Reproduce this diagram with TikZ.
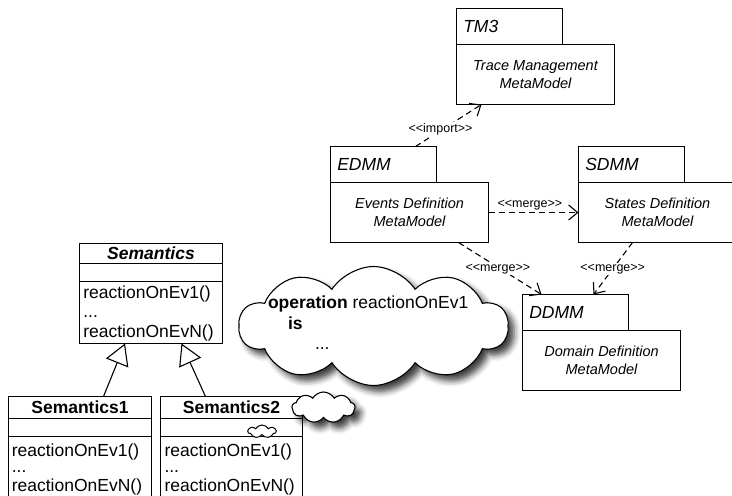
\documentclass[tikz,border=0pt]{standalone}
\usepackage{fontspec}
\setmainfont{Liberation Sans}
\newfontfamily\stfam{Liberation Sans}
\usetikzlibrary{arrows.meta,shapes.symbols,shadows.blur,calc}
\newcommand\clsfont{\fontsize{17.5}{20}\selectfont}
\newcommand\tabfont{\fontsize{17.5}{20}\selectfont}
\newcommand\pkgfont{\fontsize{14.5}{18.5}\selectfont}
\newcommand\stfont{\stfam\fontsize{12.5}{14}\selectfont}
\begin{document}
\begin{tikzpicture}[x=1pt,y=-1pt,line width=1.1pt,
  every node/.style={outer sep=0pt},
  pkgtab/.style={draw, anchor=north west, minimum height=36pt, text width=92.4pt,
    inner xsep=6.8pt, inner ysep=0pt, align=left, font=\tabfont\itshape},
  pkgbody/.style={draw, anchor=north west, minimum width=158pt, minimum height=60pt,
    inner sep=0pt, align=center, font=\pkgfont\itshape},
  dep/.style={dash pattern=on 6pt off 4pt, -{Straight Barb[length=9pt,width=15pt]}},
  stereo/.style={font=\stfont, fill=white, inner sep=1pt},
  clsname/.style={draw, anchor=north west, inner sep=0pt, align=center},
  clsbox/.style={draw, anchor=north west, inner sep=0pt},
  optext/.style={anchor=base west, inner sep=0pt, font=\clsfont},
  gen/.style={-{Triangle[open,fill=white,length=21pt,width=24pt]}},
  cloudshape/.style={cloud, draw, fill=white, inner sep=0pt},
  cshadow/.style={blur shadow={shadow xshift=6pt, shadow yshift=-6pt, shadow blur radius=6pt, shadow opacity=75}},
  ctext/.style={anchor=base west, inner sep=0pt, font=\clsfont}
]
\clip (0,0) rectangle (732,496);

% packages
\node[pkgtab] (tmtab) at (456.5,8.5) {TM3};
\node[pkgbody] (tmbody) at (tmtab.south west) {Trace Management\\MetaModel};
\node[pkgtab] (edtab) at (330.5,146.5) {EDMM};
\node[pkgbody] (edbody) at (edtab.south west) {Events Definition\\MetaModel};
\node[pkgtab] (sdtab) at (578.5,146.5) {SDMM};
\node[pkgbody] (sdbody) at (sdtab.south west) {States Definition\\MetaModel};
\node[pkgtab] (ddtab) at (522.5,294.5) {DDMM};
\node[pkgbody] (ddbody) at (ddtab.south west) {Domain Definition\\MetaModel};

% dependencies
\draw[dep] ($(edtab.north west)+(85,0)$) -- node[stereo, pos=0.41, xshift=-2pt] (implbl) {<<import>>} ($(tmbody.south west)+(25,0)$);
\draw[dep] (edbody.east) -- node[stereo, pos=0.46, above=1pt, fill=none] (m1lbl) {<<merge>>} (sdbody.west);
\draw[dep] ($(edbody.south west)+(128,0)$) -- node[stereo, pos=0.51, xshift=-3pt] (m2lbl) {<<merge>>} ($(ddtab.north west)+(19,0)$);
\draw[dep] ($(sdbody.south west)+(54,0)$) -- node[stereo, pos=0.507] (m3lbl) {<<merge>>} ($(ddtab.north west)+(71,0)$);

% class Semantics
\node[clsname, minimum width=143pt, minimum height=20pt, font=\clsfont\bfseries\itshape] (semname) at (79.5,243.5) {Semantics};
\node[clsbox, minimum width=143pt, minimum height=18pt] (semattr) at (semname.south west) {};
\node[clsbox, minimum width=143pt, minimum height=62pt] (semops) at (semattr.south west) {};
\node[optext] (semop1) at (83.3,298) {reactionOnEv1()};
\node[optext] (semop2) at (83.3,317) {...};
\node[optext] (semop3) at (83.3,337) {reactionOnEvN()};

% class Semantics1
\node[clsname, minimum width=143pt, minimum height=22pt, font=\clsfont\bfseries] (s1name) at (8.5,396.5) {Semantics1};
\node[clsbox, minimum width=143pt, minimum height=18pt] (s1attr) at (s1name.south west) {};
\node[clsbox, minimum width=143pt, minimum height=64pt] (s1ops) at (s1attr.south west) {};
\node[optext] (s1op1) at (11.8,456.5) {reactionOnEv1()};
\node[optext] (s1op2) at (11.8,472.7) {...};
\node[optext] (s1op3) at (11.8,491) {reactionOnEvN()};

% class Semantics2
\node[clsname, minimum width=142pt, minimum height=22pt, font=\clsfont\bfseries] (s2name) at (160.5,396.5) {Semantics2};
\node[clsbox, minimum width=142pt, minimum height=18pt] (s2attr) at (s2name.south west) {};
\node[clsbox, minimum width=142pt, minimum height=64pt] (s2ops) at (s2attr.south west) {};
\node[optext] (s2op1) at (164.5,456.5) {reactionOnEv1()};
\node[optext] (s2op2) at (164.5,472.7) {...};
\node[optext] (s2op3) at (164.5,491) {reactionOnEvN()};

% generalizations
\draw[gen] ($(s1name.north west)+(95,0)$) -- ($(semops.south west)+(45.5,0)$);
\draw[gen] ($(s2name.north west)+(45,0)$) -- ($(semops.south west)+(102,0)$);

% clouds
\node[cloudshape, cshadow, cloud puffs=10, cloud puff arc=115, minimum width=269pt, minimum height=119pt] (bigcloud) at (373.5,326) {};
\node[cloudshape, cshadow, cloud puffs=9, cloud puff arc=120, minimum width=63pt, minimum height=31pt] (midcloud) at (323.5,407.5) {};
\node[cloudshape, cloud puffs=7, cloud puff arc=120, minimum width=28pt, minimum height=13pt, line width=1pt] (tinycloud) at (262,431.5) {};

\node[ctext] (optext) at (268,308.5) {\textbf{operation} reactionOnEv1};
\node[ctext] (istext) at (288,329) {\textbf{is}};
\node[ctext] (dots) at (315,349) {...};
\end{tikzpicture}
\end{document}
